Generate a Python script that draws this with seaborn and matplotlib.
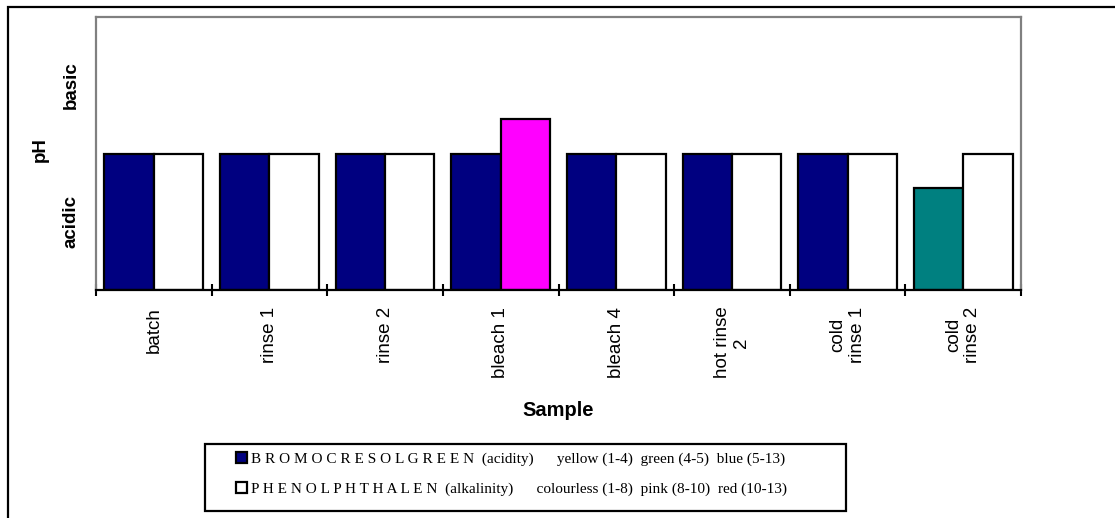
import matplotlib
matplotlib.use("Agg")
import matplotlib.pyplot as plt
import numpy as np
import pandas as pd
import seaborn as sns
from matplotlib.patches import Rectangle

# Samples along the wash sequence
samples = ["batch", "rinse 1", "rinse 2", "bleach 1", "bleach 4",
           "hot rinse\n2", "cold\nrinse 1", "cold\nrinse 2"]

# Indicator response on a relative acidic (low) -> basic (high) scale
bromocresol_level = [2, 2, 2, 2, 2, 2, 2, 1.5]
phenolphthalein_level = [2, 2, 2, 2.5, 2, 2, 2, 2]

# Colour each indicator showed for each sample
bromocresol_colors = ["#000080"] * 7 + ["#008080"]
phenolphthalein_colors = ["white", "white", "white", "#FF00FF",
                          "white", "white", "white", "white"]

y_tick_values = [1, 3]
y_tick_labels = ["acidic", "basic"]

series_labels = [
    "B R O M O C R E S O L G R E E N  (acidity)      yellow (1-4)  green (4-5)  blue (5-13)",
    "P H E N O L P H T H A L E N  (alkalinity)      colourless (1-8)  pink (8-10)  red (10-13)",
]

df = pd.DataFrame({
    "Sample": samples * 2,
    "level": bromocresol_level + phenolphthalein_level,
    "indicator": [series_labels[0]] * len(samples) + [series_labels[1]] * len(samples),
})

sns.set_style("white")
plt.rcParams["font.family"] = ["Liberation Sans", "DejaVu Sans"]
plt.rcParams["text.color"] = "black"
plt.rcParams["axes.labelcolor"] = "black"
plt.rcParams["xtick.color"] = "black"
plt.rcParams["ytick.color"] = "black"

W, H = 1115, 518
fig = plt.figure(figsize=(W / 100, H / 100), dpi=100)
ax = fig.add_axes([96 / W, 1 - 290 / H, 925 / W, 273 / H])

sns.barplot(data=df, x="Sample", y="level", hue="indicator",
            palette={series_labels[0]: "#000080", series_labels[1]: "white"},
            width=0.855, saturation=1, edgecolor="black", linewidth=1.6,
            ax=ax)

# per-sample indicator colours
for cont, cols in zip(ax.containers, [bromocresol_colors, phenolphthalein_colors]):
    for bar, c in zip(cont, cols):
        bar.set_facecolor(c)

ax.set_xlim(-0.5, len(samples) - 0.5)
ax.set_ylim(0, 4)

# category separators as major ticks, names on minor ticks
ax.set_xticks(np.arange(-0.5, len(samples), 1.0))
ax.set_xticklabels([])
ax.set_xticks(range(len(samples)), labels=samples, minor=True)
ax.tick_params(axis="x", which="major", direction="inout", length=9,
               width=1.5, color="black", bottom=True)
ax.tick_params(axis="x", which="minor", length=0, pad=12,
               labelsize=13.5, labelrotation=90)
for lbl in ax.get_xticklabels(minor=True):
    lbl.set_multialignment("center")

ax.set_yticks(y_tick_values, labels=y_tick_labels)
ax.tick_params(axis="y", length=0, pad=12, left=True)
for lbl in ax.get_yticklabels():
    lbl.set_rotation(90)
    lbl.set_va("center")
    lbl.set_fontweight("bold")
    lbl.set_fontsize(13.5)

ax.set_xlabel("Sample", fontsize=14.5, fontweight="bold")
ax.xaxis.set_label_coords(0.5, (290 - 411) / 273)
ax.xaxis.label.set_va("center")
ax.set_ylabel("pH", fontsize=13.5, fontweight="bold")
ax.yaxis.set_label_coords((40 - 96) / 925, (290 - 150) / 273)
ax.yaxis.label.set_va("center")

for side in ["left", "top", "right"]:
    ax.spines[side].set_color("#808080")
    ax.spines[side].set_linewidth(1.6)
ax.spines["bottom"].set_color("black")
ax.spines["bottom"].set_linewidth(1.6)

# legend
sns.move_legend(ax, loc="upper left",
                bbox_to_anchor=(236 / W, 1 - 452 / H),
                bbox_transform=fig.transFigure, title=None, frameon=False,
                prop={"family": "Liberation Serif", "size": 11},
                handlelength=0.7, handleheight=0.7, handletextpad=0.3,
                labelspacing=1.05, borderpad=0, borderaxespad=0)
for h in ax.get_legend().legend_handles:
    h.set_edgecolor("black")
    h.set_linewidth(1.6)

fig.patches.append(Rectangle((205 / W, 1 - 511 / H), 641 / W, 67 / H,
                             transform=fig.transFigure, fill=False,
                             edgecolor="black", linewidth=1.6))
# outer chart border
fig.patches.append(Rectangle((8 / W, -0.05), 1.2, 1.05 - 7 / H,
                             transform=fig.transFigure, fill=False,
                             edgecolor="black", linewidth=1.6))

fig.savefig("out.png", dpi=100, facecolor="white")
